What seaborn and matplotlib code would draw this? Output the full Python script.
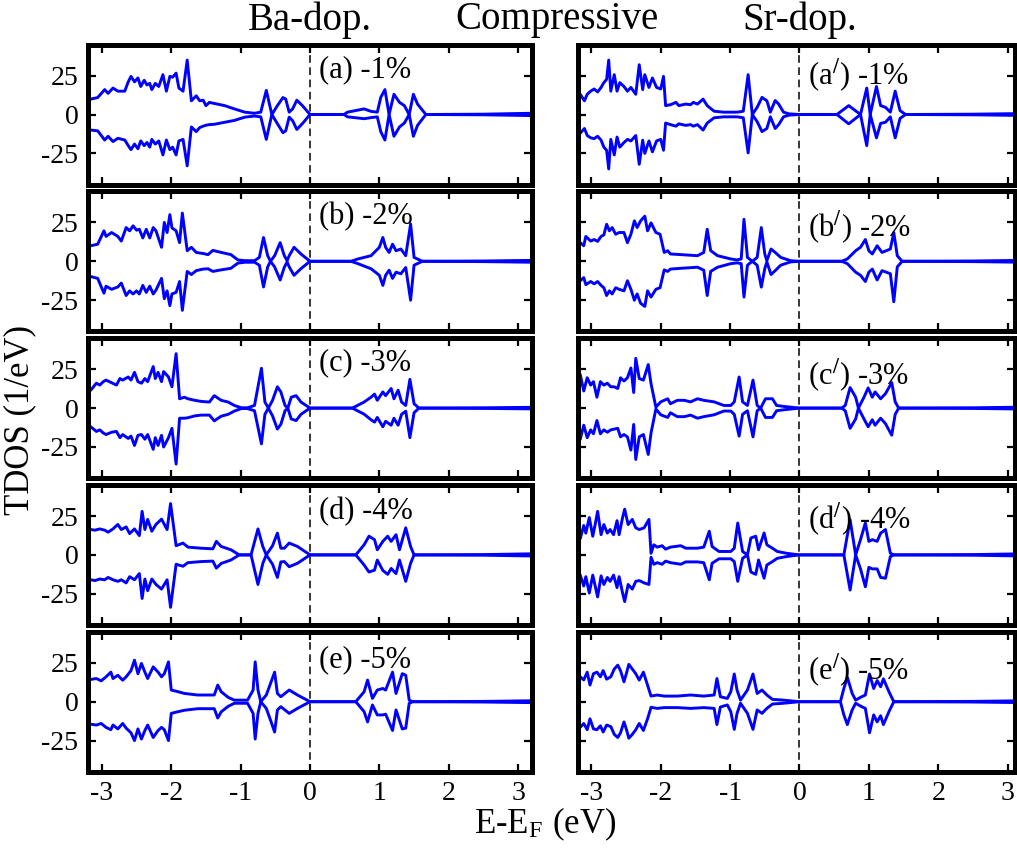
import matplotlib
matplotlib.use("Agg")
import matplotlib.pyplot as plt
import pandas as pd
import seaborn as sns

# ---------------- data: Ba-doped (left column) ----------------
ba1_e = [-3.20,-3.16,-3.06,-2.96,-2.91,-2.84,-2.77,-2.67,-2.62,-2.58,-2.53,-2.48,-2.44,-2.39,-2.35,-2.31,-2.28,-2.23,-2.18,-2.12,-2.07,-2.02,-1.98,-1.93,-1.89,-1.83,-1.77,-1.71,-1.64,-1.59,-1.54,-1.50,-1.45,-1.38,-1.23,-1.09,-0.94,-0.80,-0.71,-0.63,-0.55,-0.47,-0.39,-0.35,-0.30,-0.25,-0.19,-0.11,0.00,0.49,0.54,0.78,0.88,0.97,1.02,1.08,1.14,1.21,1.29,1.36,1.43,1.49,1.55,1.67,2.50,3.20]
ba1_up = [10,9.9,10.9,16,13.6,17,15,15,21,24.5,21,23.5,18,22,19,20,16,20,18,25.6,15,24.5,24,26.6,17,15,35,8.8,12,8.8,9.2,5.7,7.8,7.1,5.7,3.6,1.5,0.8,1.5,15.5,0,5.7,10.9,9.9,1.5,3.6,9.2,5.7,0,0,1.5,3.6,2,1.5,11,16,0,13,7.8,5.7,0,13,6.7,0,0.2,0.8]
ba1_dn = [-10,-10,-10.5,-16.4,-14,-17.4,-15.3,-16.4,-20,-22.6,-19,-22,-17,-20,-18,-21,-16,-19,-17,-26,-16.4,-22.6,-21,-26,-17,-16,-33,-8,-11,-8.4,-7.5,-6.9,-6.5,-6.3,-5,-3.8,-1.7,-1,-1.5,-16,0,-5.9,-11.7,-10.5,-1.7,-4,-9.6,-5.9,0,0,-1.5,-2.7,-2,-1.5,-11,-16.4,0,-14,-8,-5.5,0,-14,-7,0,-0.2,-0.7]

ba2_e = [-3.20,-3.16,-3.06,-2.97,-2.94,-2.86,-2.77,-2.72,-2.65,-2.60,-2.55,-2.50,-2.46,-2.41,-2.36,-2.31,-2.26,-2.22,-2.14,-2.10,-2.06,-2.02,-1.99,-1.93,-1.88,-1.84,-1.77,-1.71,-1.64,-1.54,-1.47,-1.40,-1.28,-1.14,-1.04,-0.94,-0.80,-0.73,-0.67,-0.61,-0.57,-0.51,-0.43,-0.37,-0.33,-0.30,-0.23,-0.13,0.00,0.59,0.69,0.88,1.00,1.05,1.09,1.14,1.19,1.24,1.31,1.38,1.45,1.50,1.62,2.50,3.20]
ba2_up = [10,10,11,19.6,16,18.5,16,13,21.7,19.6,22.8,20,20.6,15,20.6,15,21.7,19.6,9,25,18.5,30,21.5,19.6,12,31,6.8,9,5.7,5,4.3,7,5.7,4.3,0.9,0.4,0.4,2.5,15.3,3.6,0,3.6,12,3.6,0.4,3.6,9,4.7,0,0,1.5,3.6,9,15.3,9,5.7,11,6.8,7.9,3.6,24,2.5,0,0.2,0.6]
ba2_dn = [-10,-9.8,-11,-20.5,-16,-18,-16.5,-14,-22,-19,-21,-19,-21,-15.5,-20,-16,-21,-18.5,-11,-24,-19,-28.5,-21,-20,-13,-31.5,-6.5,-8.5,-6,-5,-4.8,-6.5,-5.5,-4.5,-1.2,-0.6,-0.6,-2.5,-16.5,-3.6,0,-3.6,-12,-3.8,-0.4,-3.6,-9,-4.7,0,0,-1.5,-4.8,-9,-15.5,-9,-5.7,-11,-7,-8,-4,-25,-2.5,0,-0.2,-0.6]

ba3_e = [-3.20,-3.16,-3.08,-3.03,-2.98,-2.94,-2.86,-2.79,-2.74,-2.70,-2.62,-2.58,-2.53,-2.48,-2.43,-2.38,-2.34,-2.26,-2.23,-2.19,-2.14,-2.11,-2.04,-1.99,-1.93,-1.88,-1.81,-1.76,-1.66,-1.57,-1.45,-1.38,-1.28,-1.18,-1.09,-0.99,-0.90,-0.80,-0.70,-0.65,-0.60,-0.54,-0.47,-0.42,-0.36,-0.32,-0.27,-0.20,-0.13,0.00,0.61,0.78,0.88,0.93,0.97,1.05,1.09,1.17,1.21,1.27,1.32,1.38,1.44,1.50,1.57,2.50,3.20]
ba3_up = [11,11.5,16,14.8,17,18,16.3,14.8,19,18,20,18,23,17,16,19,17,26.7,19,23,17,23.5,20,13.7,35,6,7,6,5,4.3,3.9,8,5,3.9,1.7,0.2,0.2,1.7,25.6,3.9,0,5,13.7,10.4,1.7,0,7,8,3.9,0,0,3.9,7,9,5,10.4,8,12.6,6,11.5,3.9,1.7,18.5,2.8,0,0.2,0.5]
ba3_dn = [-12,-12,-15,-14,-16,-17,-15.5,-15,-19,-17,-19.5,-18,-24,-17.5,-17,-20,-17,-26.5,-19,-24,-17.5,-25,-19,-13,-36,-6.5,-6.5,-6.2,-5,-4.5,-4.5,-8.2,-5.2,-4,-1.9,-0.3,-0.3,-1.7,-23,-4,0,-5,-13.5,-10.4,-1.7,0,-7,-8,-4,0,0,-3.9,-7.5,-9,-6,-12,-8.5,-11,-6.5,-11,-4,-2,-19,-3,0,-0.2,-0.5]

ba4_e = [-3.20,-3.16,-3.10,-3.03,-2.96,-2.91,-2.84,-2.77,-2.72,-2.65,-2.60,-2.53,-2.46,-2.42,-2.38,-2.34,-2.28,-2.22,-2.14,-2.06,-2.01,-1.93,-1.83,-1.76,-1.57,-1.40,-1.35,-1.28,-1.14,-1.02,-0.85,-0.75,-0.68,-0.63,-0.54,-0.47,-0.42,-0.37,-0.30,-0.18,0.00,0.66,0.78,0.85,0.93,0.97,1.05,1.12,1.17,1.24,1.29,1.38,1.45,1.50,2.50,3.20]
ba4_up = [16,16.3,15.9,16.7,15.9,14.6,16.7,19.6,16.3,18,13.7,16.7,12.4,28,16.3,22.8,15.2,19.6,23,16.3,33,5.9,7.6,5,4.3,3.9,8.7,5.4,3.3,0,0,16.7,5.4,0,5.9,14,4.3,4.3,7.6,5.4,0,0,6.5,12,9.8,3.3,8.7,12,8.7,13,3.3,17.4,5.4,0,0.2,0.7]
ba4_dn = [-16,-16,-16.5,-15.5,-16,-14.5,-16,-17,-16,-18,-14,-16,-12,-28,-15.5,-23,-15.5,-19,-22,-16,-33.7,-6,-7.3,-5,-4.3,-4,-8.5,-5.5,-3.3,0,0,-19,-5.4,0,-6,-14.5,-4.5,-4.3,-7.6,-5.4,0,0,-6.5,-11,-9.8,-3.3,-10,-12.5,-8.7,-12,-3.3,-17,-5.4,0,-0.2,-0.7]

ba5_e = [-3.20,-3.16,-3.08,-3.01,-2.94,-2.87,-2.84,-2.77,-2.70,-2.65,-2.58,-2.53,-2.48,-2.43,-2.38,-2.34,-2.26,-2.19,-2.14,-2.10,-2.04,-2.00,-1.90,-1.81,-1.62,-1.38,-1.33,-1.28,-1.18,-1.09,-0.90,-0.82,-0.79,-0.75,-0.71,-0.63,-0.56,-0.51,-0.47,-0.42,-0.30,-0.18,0.00,0.66,0.78,0.83,0.90,0.97,1.05,1.09,1.19,1.24,1.33,1.38,1.43,1.48,2.50,3.20]
ba5_up = [14.3,14.3,14.9,13.4,16,19,14.9,17,13.8,16,20,26.7,18,24.6,19,14.9,22.4,19,16,18,25.6,7.5,6.4,5.3,4.3,4.3,10.7,6.4,2.8,1,1,7.5,25.6,7.5,0,4.3,12.8,19,5.3,3.2,7.5,4.3,0,0,6.4,13.9,2.1,7.5,8.5,7.5,19,5.3,18,17,1,0,0.2,0.6]
ba5_dn = [-14.5,-14.5,-15,-14,-16.5,-18,-15,-17.5,-14,-17,-20,-25,-17.5,-24,-18.5,-15,-23,-18.5,-16.5,-18,-25,-7.5,-6.4,-5.5,-4.5,-4.5,-10.5,-6.5,-3,-1,-1,-7.5,-24,-7.5,0,-4.3,-13,-19.5,-5.3,-3.2,-7.5,-4.3,0,0,-6.4,-13,-2.1,-8.5,-8.5,-8,-18.5,-5.3,-17.5,-17,-1,0,-0.2,-0.6]

# ---------------- data: Sr-doped (right column) ----------------
sr1_e = [-3.20,-3.16,-3.10,-3.06,-3.01,-2.96,-2.91,-2.86,-2.82,-2.78,-2.75,-2.72,-2.67,-2.63,-2.59,-2.53,-2.48,-2.43,-2.36,-2.31,-2.26,-2.23,-2.17,-2.12,-2.06,-2.00,-1.96,-1.93,-1.86,-1.78,-1.74,-1.64,-1.57,-1.53,-1.47,-1.39,-1.33,-1.23,-1.09,-0.90,-0.81,-0.74,-0.68,-0.61,-0.54,-0.47,-0.42,-0.35,-0.30,-0.23,-0.15,0.00,0.54,0.71,0.88,0.97,1.02,1.11,1.17,1.24,1.31,1.38,1.45,1.53,2.50,3.20]
sr1_up = [11,13,8.8,13,15,16.4,14.5,17.4,20.5,22.6,35,15,25.6,15,20.5,18,15,17.4,13,32,16,25.6,17.4,23.5,17.4,16.4,24.5,5.7,6.3,7.8,5.7,6.7,6.3,7.8,6.7,9.9,5.7,2.1,1.5,1.5,2.1,25.6,0,4.6,11,8.8,1.5,9,6.7,1.5,0.4,0,0,5.7,0,17,0,18,5.7,4.6,1.5,15,2.5,0,0.2,0.6]
sr1_dn = [-11,-12,-9,-13.5,-15,-15.5,-14,-16.5,-21,-23,-35,-16,-26,-14.5,-21,-18,-16,-17,-13.5,-32,-16.5,-25,-17,-24,-17,-16,-23,-5.5,-6.5,-7.5,-6,-7,-6.5,-7.5,-6.5,-10,-5.5,-2.1,-1.5,-1.5,-2.1,-24.7,0,-4.6,-11,-9,-1.5,-9,-6.5,-1.5,-0.4,0,0,-6,0,-20,0,-15,-5.7,-5,-1.5,-15,-2.5,0,-0.2,-0.6]

sr2_e = [-3.20,-3.16,-3.11,-3.08,-3.01,-2.96,-2.91,-2.86,-2.82,-2.78,-2.74,-2.70,-2.65,-2.60,-2.53,-2.48,-2.43,-2.38,-2.34,-2.29,-2.23,-2.19,-2.14,-2.07,-2.01,-1.95,-1.90,-1.86,-1.71,-1.47,-1.38,-1.33,-1.28,-1.18,-0.99,-0.90,-0.84,-0.80,-0.75,-0.68,-0.61,-0.55,-0.50,-0.47,-0.41,-0.35,-0.27,-0.13,0.00,0.61,0.69,0.81,0.88,0.95,1.00,1.05,1.12,1.19,1.31,1.36,1.41,1.48,2.50,3.20]
sr2_up = [12,12,10,16,13,14,12.8,16,17,23.8,19.6,21.7,17.4,18.5,18.5,12,17.4,26,21.7,26,29,19.6,24.7,18.5,17.4,5.7,6.8,4.7,4.3,3.6,5.7,20.6,6.8,3.6,1.5,0.9,1.5,27,2.5,0,2.5,21.7,4.7,0.4,7.9,5.7,2.5,0.4,0,0,1.5,6.8,9,14,6.8,4.7,10,5.7,7.9,18.5,3.6,0,0.2,0.6]
sr2_dn = [-12,-12.5,-10.5,-15,-13,-14.5,-13,-15.5,-17,-22,-19,-21,-17,-18,-19,-12.5,-18,-25,-21,-27,-29,-19,-23,-18,-17,-5.5,-6.5,-5,-4.5,-3.8,-5.7,-22,-6.5,-3.8,-1.5,-1,-1.5,-23,-2.5,0,-2.5,-16.6,-4.7,-0.4,-8.5,-6,-2.5,-0.4,0,0,-1.5,-7,-9,-13,-7,-5,-12,-6,-8,-26,-3.6,0,-0.2,-0.6]

sr3_e = [-3.20,-3.16,-3.11,-3.06,-3.01,-2.97,-2.92,-2.87,-2.82,-2.77,-2.72,-2.67,-2.62,-2.58,-2.53,-2.48,-2.43,-2.39,-2.36,-2.31,-2.25,-2.18,-2.14,-2.07,-2.00,-1.90,-1.86,-1.76,-1.66,-1.57,-1.47,-1.38,-1.23,-1.09,-0.99,-0.94,-0.87,-0.82,-0.75,-0.67,-0.61,-0.56,-0.49,-0.39,-0.33,-0.23,0.00,0.61,0.66,0.73,0.81,0.85,0.93,0.99,1.05,1.09,1.17,1.24,1.33,1.38,1.43,2.50,3.20]
sr3_up = [22,21.6,11,19.5,14.8,17,7,17,14.8,16,13.7,13.7,12.6,19.5,17.4,19.5,25.8,10,32,19,18,28,15.7,0.6,4,6,2.8,5,5,4,6,5,4,1.7,1.7,4,20,4,1.7,18,1.7,0,6,6,1.7,1.1,0,0,1.7,13.2,7,0,7,13,7,10.4,6,9.3,16.4,4,0,0.2,0.6]
sr3_dn = [-21,-20,-11,-19,-14,-16.5,-8,-16.5,-14,-15.5,-14,-13.5,-13,-18.5,-17,-18.5,-27,-10.5,-33,-18.5,-17,-29.8,-16,-0.6,-4.3,-6,-3,-5.5,-5.5,-4.5,-6.5,-5.5,-4.3,-1.9,-1.9,-4,-18,-4,-1.7,-18.5,-1.7,0,-6,-6,-1.7,-1.1,0,0,-1.7,-13,-7,0,-7,-12,-7.5,-11,-6.5,-10,-17.4,-4,0,-0.2,-0.6]

sr4_e = [-3.20,-3.16,-3.11,-3.08,-3.03,-2.98,-2.95,-2.91,-2.86,-2.82,-2.77,-2.73,-2.68,-2.63,-2.60,-2.55,-2.52,-2.47,-2.41,-2.36,-2.31,-2.24,-2.17,-2.14,-2.10,-2.05,-1.98,-1.93,-1.86,-1.71,-1.64,-1.47,-1.38,-1.30,-1.26,-1.16,-0.99,-0.94,-0.89,-0.82,-0.75,-0.70,-0.63,-0.59,-0.51,-0.47,-0.39,-0.32,-0.18,0.00,0.64,0.73,0.81,0.88,0.95,1.00,1.05,1.12,1.17,1.24,1.31,1.36,2.50,3.20]
sr4_up = [9,10.5,18.9,14,24,12,18.5,28,13,19.5,14,16.3,13,22,13,24,29.4,19.5,22.8,17.4,16.3,17.4,22.8,1,6.5,5,5.9,3.7,5,5.9,4.3,4.3,5,15.2,5.4,2.2,2.2,4.3,20.5,2.2,0,10.9,12,3.3,14.1,6.5,4.3,2.2,1,0,0,22.6,0,9.8,20.6,8.7,9.8,8.7,14,16.3,1.1,0,0.2,0.7]
sr4_dn = [-11,-13,-20,-14,-24.5,-13,-19,-27,-13.5,-19,-14.5,-17,-13,-21,-14,-24.5,-30,-19,-22,-17,-16.5,-18,-19,-1.5,-6,-5,-6,-4,-5,-6,-4.5,-4.5,-5,-16,-5.4,-2.5,-2.5,-4.3,-17,-2.2,0,-11,-12.5,-3.3,-15,-6.5,-4.3,-2.2,-1,0,0,-22.6,0,-9,-20.5,-8,-9,-9,-14.5,-15,-1.1,0,-0.2,-0.7]

sr5_e = [-3.20,-3.16,-3.11,-3.06,-3.02,-2.97,-2.92,-2.87,-2.83,-2.78,-2.72,-2.67,-2.62,-2.58,-2.53,-2.49,-2.46,-2.41,-2.36,-2.31,-2.25,-2.19,-2.14,-2.05,-1.95,-1.76,-1.57,-1.38,-1.23,-1.19,-1.14,-1.04,-0.99,-0.94,-0.90,-0.85,-0.75,-0.67,-0.61,-0.54,-0.47,-0.39,-0.23,0.00,0.59,0.64,0.69,0.76,0.81,0.88,0.95,1.01,1.07,1.12,1.17,1.21,1.29,1.36,2.50,3.20]
sr5_up = [15,16,14,19,10.7,18,19,16,20,14.5,16,21,23.5,20,12.8,19,24,21,18,13.9,19,10.6,3.6,4.3,3.6,3.6,4.3,3.6,4.3,14.9,3.2,2.1,6.4,17.8,7.5,1,7.5,17.8,5.3,7.5,4.3,1.5,1,0,0,8.5,15.7,5.3,1,2.8,4.3,17.8,8.5,13.6,9.6,14.7,6.4,0,0.2,0.6]
sr5_dn = [-15,-16.5,-14,-18,-11,-17.5,-18,-15.5,-19.5,-15,-16,-21,-23,-20,-13,-18.5,-23.5,-21,-18,-14,-18.5,-11,-3.6,-4.3,-3.8,-3.8,-4.3,-3.8,-4.3,-14.7,-3.4,-2.1,-6.4,-17.8,-7.5,-1,-7.5,-17.8,-5.3,-7.5,-4.3,-1.5,-1,0,0,-8.5,-14.7,-5.3,-1,-2.8,-4.3,-20,-8.5,-13,-9,-14.7,-6.4,0,-0.2,-0.6]

ba_labels = ["(a) -1%", "(b) -2%", "(c) -3%", "(d) -4%", "(e) -5%"]
sr_labels = ["(a$^{/}$) -1%", "(b$^{/}$) -2%", "(c$^{/}$) -3%", "(d$^{/}$) -4%", "(e$^{/}$) -5%"]
x_ticks = [-3, -2, -1, 0, 1, 2, 3]
y_ticks = [-25, 0, 25]

ba_sets = [(ba1_e, ba1_up, ba1_dn), (ba2_e, ba2_up, ba2_dn), (ba3_e, ba3_up, ba3_dn),
           (ba4_e, ba4_up, ba4_dn), (ba5_e, ba5_up, ba5_dn)]
sr_sets = [(sr1_e, sr1_up, sr1_dn), (sr2_e, sr2_up, sr2_dn), (sr3_e, sr3_up, sr3_dn),
           (sr4_e, sr4_up, sr4_dn), (sr5_e, sr5_up, sr5_dn)]

# ---------------- style ----------------
sns.set_style("ticks")
plt.rcParams['font.family'] = ['Liberation Serif', 'DejaVu Serif']
plt.rcParams['mathtext.fontset'] = 'stix'
plt.rcParams['axes.unicode_minus'] = False
plt.rcParams['text.color'] = 'black'
plt.rcParams['axes.labelcolor'] = 'black'
plt.rcParams['xtick.color'] = 'black'
plt.rcParams['ytick.color'] = 'black'
plt.rcParams['mathtext.sf'] = 'Liberation Serif'

W, H = 1017, 850
fig = plt.figure(figsize=(W / 100, H / 100), dpi=100)


def rect(x0, x1, y0, y1):
    return [x0 / W, 1 - y1 / H, (x1 - x0) / W, (y1 - y0) / H]


BLUE = '#0000ff'
cols = [dict(x0=88, x1=532, xlim=(-3.2, 3.2), sets=ba_sets, labels=ba_labels,
             lab_y=[28.5, 28.5, 29, 28, 27]),
        dict(x0=577.5, x1=1014.5, xlim=(-3.2, 3.1), sets=sr_sets, labels=sr_labels,
             lab_y=[25, 22, 21, 22.5, 20])]

for ci, col in enumerate(cols):
    for r in range(5):
        top = 44.5 + r * 146.8
        ax = fig.add_axes(rect(col['x0'], col['x1'], top, top + 140))
        e, up, dn = col['sets'][r]
        df = pd.DataFrame({'E': e, 'up': up, 'dn': dn})
        ax.axvline(0, color='black', lw=1.1, ls=(0, (5, 3)), zorder=1)
        sns.lineplot(data=df, x='E', y='up', ax=ax, color=BLUE, lw=2.1,
                     estimator=None, sort=False, zorder=3)
        sns.lineplot(data=df, x='E', y='dn', ax=ax, color=BLUE, lw=2.1,
                     estimator=None, sort=False, zorder=3)
        ax.set_xlim(*col['xlim'])
        ax.set_ylim(-45, 45)
        ax.set_xticks(x_ticks)
        ax.set_yticks(y_ticks)
        ax.set_xlabel('')
        ax.set_ylabel('')
        ax.tick_params(direction='in', top=True, right=True, length=6, width=1.6,
                       labelsize=20, pad=7, colors='black')
        ax.tick_params(labelbottom=(r == 4), labelleft=(ci == 0))
        for s in ax.spines.values():
            s.set_linewidth(3.6)
            s.set_color('black')
            s.set_zorder(5)
        ax.text(0.13, col['lab_y'][r], col['labels'][r], fontsize=22,
                va='center', ha='left', zorder=6, color='black')

fig.text(310 / W, 1 - 20 / H, "Ba-dop.", fontsize=28, ha='center', va='center')
fig.text(557 / W, 1 - 20 / H, "Compressive", fontsize=28, ha='center', va='center')
fig.text(800 / W, 1 - 20 / H, "Sr-dop.", fontsize=28, ha='center', va='center')
fig.text(20 / W, 1 - 420 / H, "TDOS (1/eV)", fontsize=25, rotation=90,
         ha='center', va='center')
fig.text(545 / W, 1 - 824 / H, r"E-E$_\mathregular{F}$ (eV)", fontsize=25,
         ha='center', va='center')

fig.savefig("out.png", dpi=100)
